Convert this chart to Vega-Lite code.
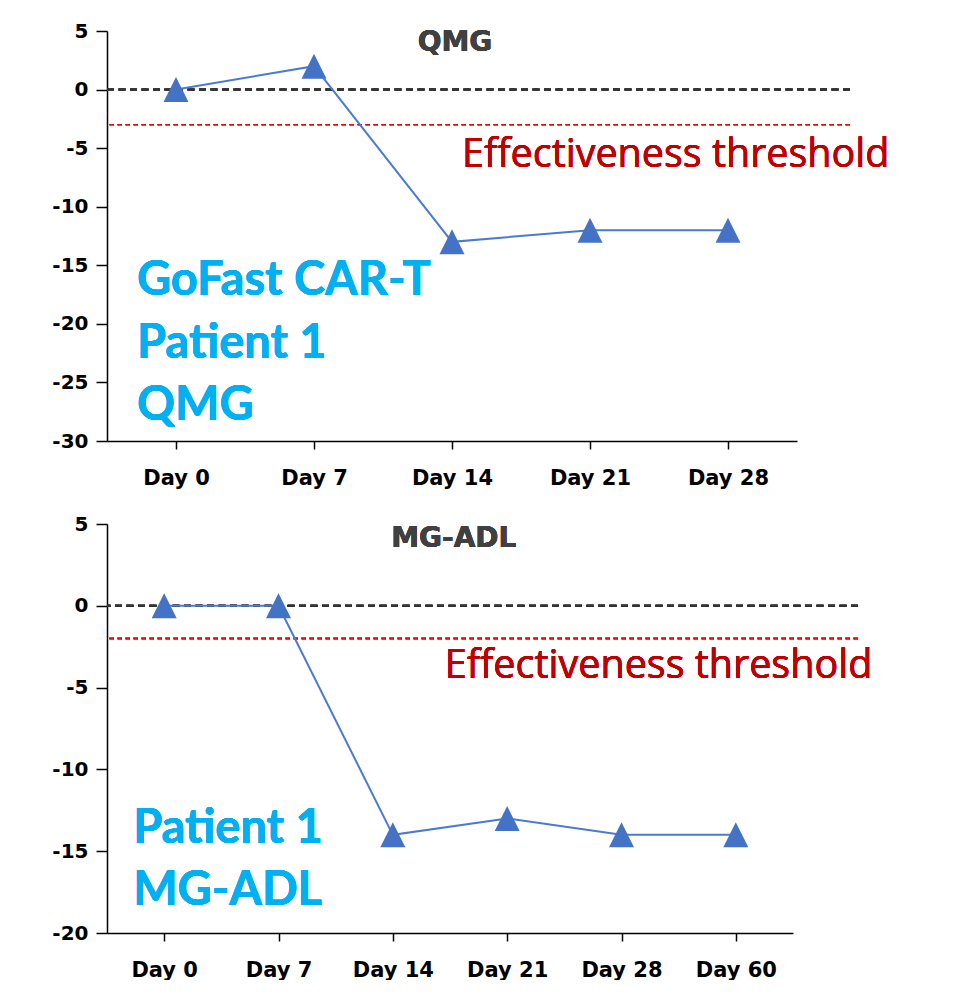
{
  "$schema": "https://vega.github.io/schema/vega-lite/v6.json",
  "background": "white",
  "padding": {"left": 51, "top": 21, "right": 0, "bottom": 0},
  "datasets": {
    "qmg": [
      {"day": "Day 0", "change": 0},
      {"day": "Day 7", "change": 2},
      {"day": "Day 14", "change": -13},
      {"day": "Day 21", "change": -12},
      {"day": "Day 28", "change": -12}
    ],
    "adl": [
      {"day": "Day 0", "change": 0},
      {"day": "Day 7", "change": 0},
      {"day": "Day 14", "change": -14},
      {"day": "Day 21", "change": -13},
      {"day": "Day 28", "change": -14},
      {"day": "Day 60", "change": -14}
    ]
  },
  "bounds": "flush",
  "spacing": 83,
  "vconcat": [
    {
      "width": 743,
      "height": 410,
      "data": {"name": "qmg"},
      "encoding": {
        "x": {
          "field": "day", "type": "ordinal", "sort": null,
          "scale": {"type": "point", "padding": 0.5, "range": [0, 690]},
          "axis": {"title": null}
        },
        "y": {
          "field": "change", "type": "quantitative",
          "scale": {"domain": [-30, 5], "nice": false, "zero": false},
          "axis": {"title": null, "values": [-30, -25, -20, -15, -10, -5, 0, 5]}
        }
      },
      "layer": [
        {
          "mark": {"type": "rule", "color": "#333333", "strokeWidth": 2, "strokeDash": [7, 4.5]},
          "encoding": {"x": null, "y": {"datum": 0}}
        },
        {
          "mark": {"type": "rule", "color": "#FF0000", "strokeWidth": 1.3, "strokeDash": [4.5, 3.5]},
          "encoding": {"x": null, "y": {"datum": -3}}
        },
        {"mark": {"type": "line", "color": "#4A7BD0", "strokeWidth": 2}},
        {
          "mark": {"type": "point", "shape": "M0,-1L1,1L-1,1Z", "size": 625, "filled": true, "color": "#4472C4", "opacity": 1}
        },
        {
          "mark": {"type": "text", "text": "QMG", "font": "DejaVu Sans", "fontWeight": "bold", "fontSize": 28, "color": "#404040", "align": "center", "baseline": "middle", "dx": 3},
          "encoding": {"x": {"datum": "Day 14"}, "y": {"datum": 4}}
        },
        {
          "mark": {"type": "text", "text": "Effectiveness threshold", "font": "Open Sans", "fontSize": 39.5, "color": "#C00000", "align": "left", "baseline": "alphabetic", "dx": 10, "dy": 42},
          "encoding": {"x": {"datum": "Day 14"}, "y": {"datum": -3}}
        },
        {
          "mark": {"type": "text", "text": ["GoFast CAR-T", "Patient 1", "QMG"], "font": "Lato", "fontWeight": "bold", "fontSize": 47, "lineHeight": 62.5, "color": "#00B0F0", "align": "left", "baseline": "alphabetic", "dx": -39, "dy": 30},
          "encoding": {"x": {"datum": "Day 0"}, "y": {"datum": -15}}
        }
      ]
    },
    {
      "width": 751,
      "height": 409,
      "data": {"name": "adl"},
      "encoding": {
        "x": {
          "field": "day", "type": "ordinal", "sort": null,
          "scale": {"type": "point", "padding": 0.5, "range": [0, 686]},
          "axis": {"title": null}
        },
        "y": {
          "field": "change", "type": "quantitative",
          "scale": {"domain": [-20, 5], "nice": false, "zero": false},
          "axis": {"title": null, "values": [-20, -15, -10, -5, 0, 5]}
        }
      },
      "layer": [
        {
          "mark": {"type": "rule", "color": "#333333", "strokeWidth": 2, "strokeDash": [7, 4.5]},
          "encoding": {"x": null, "y": {"datum": 0}}
        },
        {
          "mark": {"type": "rule", "color": "#FF0000", "strokeWidth": 1.3, "strokeDash": [4.5, 3.5]},
          "encoding": {"x": null, "y": {"datum": -2}}
        },
        {"mark": {"type": "line", "color": "#4A7BD0", "strokeWidth": 2}},
        {
          "mark": {"type": "point", "shape": "M0,-1L1,1L-1,1Z", "size": 625, "filled": true, "color": "#4472C4", "opacity": 1}
        },
        {
          "mark": {"type": "text", "text": "MG-ADL", "font": "DejaVu Sans", "fontWeight": "bold", "fontSize": 28, "color": "#404040", "align": "center", "baseline": "middle", "dx": 61, "dy": -1},
          "encoding": {"x": {"datum": "Day 14"}, "y": {"datum": 4}}
        },
        {
          "mark": {"type": "text", "text": "Effectiveness threshold", "font": "Open Sans", "fontSize": 39.5, "color": "#C00000", "align": "left", "baseline": "alphabetic", "dx": 52, "dy": 39},
          "encoding": {"x": {"datum": "Day 14"}, "y": {"datum": -2}}
        },
        {
          "mark": {"type": "text", "text": ["Patient 1", "MG-ADL"], "font": "Lato", "fontWeight": "bold", "fontSize": 47, "lineHeight": 62, "color": "#00B0F0", "align": "left", "baseline": "alphabetic", "dx": -31, "dy": -8},
          "encoding": {"x": {"datum": "Day 0"}, "y": {"datum": -15}}
        }
      ]
    }
  ],
  "config": {
    "view": {"stroke": null},
    "axis": {
      "grid": false,
      "domainColor": "#000000",
      "domainWidth": 1.5,
      "tickColor": "#000000",
      "tickWidth": 1.5,
      "labelFont": "DejaVu Sans",
      "labelFontWeight": "bold",
      "labelColor": "#000000",
      "labelExpr": "replace(datum.label, '\u2212', '-')"
    },
    "axisY": {"tickSize": 11, "labelFontSize": 20, "labelPadding": 8},
    "axisX": {"tickSize": 8, "labelFontSize": 21, "labelPadding": 18, "labelAngle": 0}
  }
}
